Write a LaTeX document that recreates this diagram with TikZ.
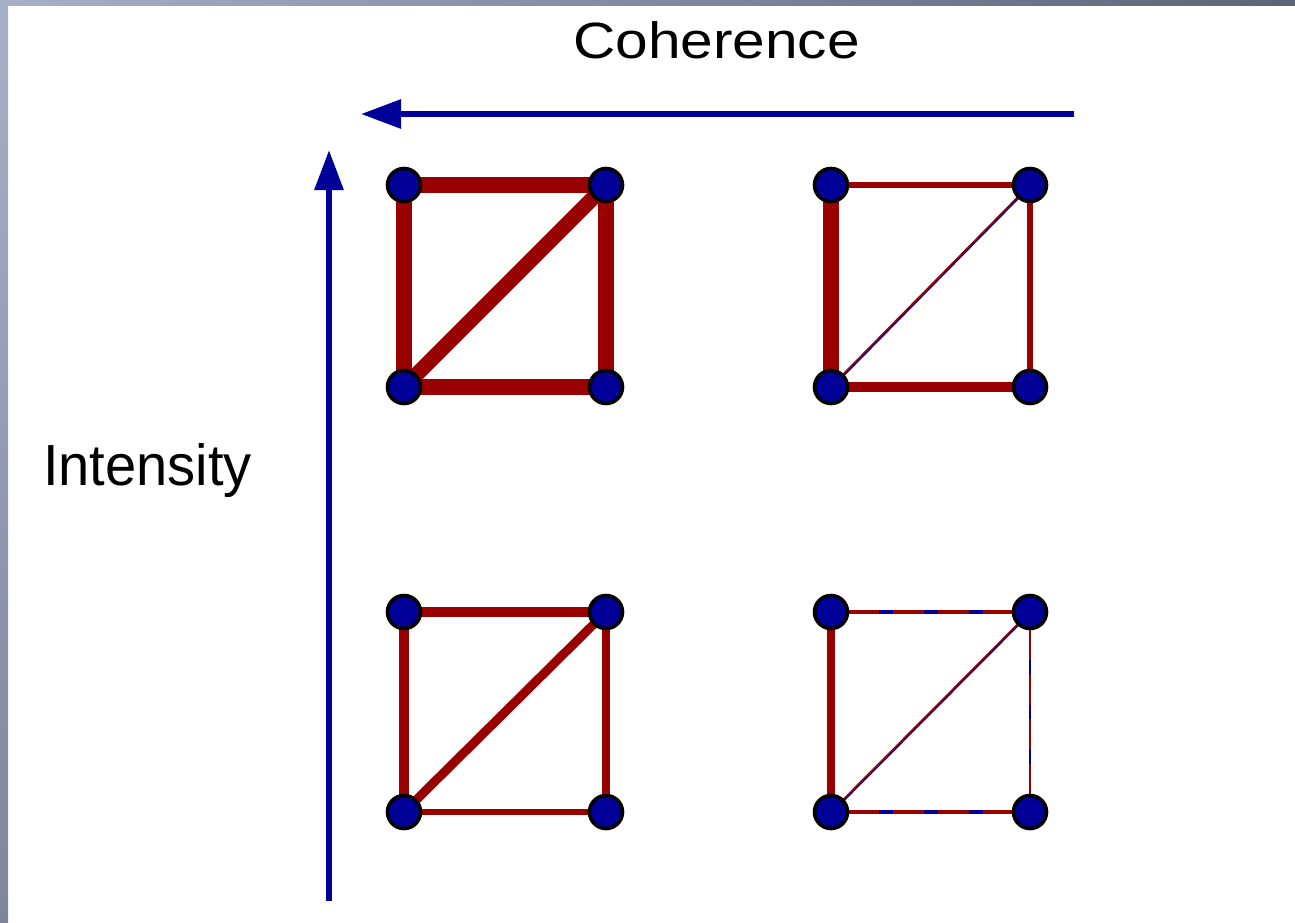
\documentclass[tikz,border=0pt]{standalone}
\usepackage{fontspec}
\setmainfont{Liberation Sans}
\usetikzlibrary{arrows.meta}
\definecolor{edgered}{RGB}{153,0,0}
\definecolor{nodeblue}{RGB}{0,0,153}
\definecolor{framelight}{RGB}{166,176,200}
\definecolor{framedark}{RGB}{92,100,120}
\definecolor{frameside}{RGB}{125,134,154}
\pgfdeclarelayer{background}
\pgfdeclarelayer{edges}
\pgfsetlayers{background,edges,main}
\begin{document}
\begin{tikzpicture}[x=1pt,y=-1pt,
  vertex/.style={circle,fill=nodeblue,draw=black,line width=3.6pt,minimum size=33pt,inner sep=0pt},
  link/.style={draw=edgered,line cap=butt},
  bluedash/.style={draw=nodeblue,line cap=butt,dash pattern=on 14pt off 31pt,dash phase=42pt},
  bluethin/.style={draw=nodeblue,line cap=butt,line width=1.1pt,transform canvas={xshift=0.9pt,yshift=-0.9pt}},
  axis/.style={draw=nodeblue,line width=6pt,-{Triangle[length=40pt,width=28pt]}},
  label/.style={inner sep=0pt,anchor=base,text=black}
  ]
\useasboundingbox (0,0) rectangle (1295,922);
\begin{pgfonlayer}{background}
\fill[white] (0,0) rectangle (1295,922);
\shade[left color=framelight,right color=framedark] (0,0) rectangle (1295,5);
\shade[top color=framelight,bottom color=frameside] (0,0) rectangle (8,922);
\end{pgfonlayer}

% labels
\node[label,font=\fontsize{51}{61}\selectfont] (coh) at (716.5,58) {\scalebox{1.15}[1]{Coherence}};
\node[label,font=\fontsize{58}{68}\selectfont] (int) at (147.5,485) {\scalebox{0.967}[1]{Intensity}};

% axes
\coordinate (hstart) at (1074,114);
\coordinate (hend) at (361,114);
\coordinate (vstart) at (329,901);
\coordinate (vend) at (329,150);
\draw[axis] (hstart) -- (hend);
\draw[axis] (vstart) -- (vend);

% vertices
\node[vertex] (a1) at (404,185) {};
\node[vertex] (b1) at (606,185) {};
\node[vertex] (c1) at (404,387) {};
\node[vertex] (d1) at (606,387) {};
\node[vertex] (a2) at (831,185) {};
\node[vertex] (b2) at (1030,185) {};
\node[vertex] (c2) at (831,387) {};
\node[vertex] (d2) at (1030,387) {};
\node[vertex] (a3) at (404,612) {};
\node[vertex] (b3) at (606,612) {};
\node[vertex] (c3) at (404,812) {};
\node[vertex] (d3) at (606,812) {};
\node[vertex] (a4) at (831,612) {};
\node[vertex] (b4) at (1030,612) {};
\node[vertex] (c4) at (831,812) {};
\node[vertex] (d4) at (1030,812) {};

\begin{pgfonlayer}{edges}
% top-left square
\draw[link,line width=16pt] (a1.center) -- (b1.center);
\draw[link,line width=16pt] (a1.center) -- (c1.center);
\draw[link,line width=16pt] (b1.center) -- (d1.center);
\draw[link,line width=16pt] (c1.center) -- (d1.center);
\draw[link,line width=15pt] (c1.center) -- (b1.center);
% top-right square
\draw[link,line width=5.3pt] (a2.center) -- (b2.center);
\draw[link,line width=15.7pt] (a2.center) -- (c2.center);
\draw[link,line width=5.7pt] (b2.center) -- (d2.center);
\draw[link,line width=9.7pt] (c2.center) -- (d2.center);
\draw[link,line width=2.2pt] (c2.center) -- (b2.center);
\draw[bluethin] (c2.center) -- (b2.center);
% bottom-left square
\draw[link,line width=9.7pt] (a3.center) -- (b3.center);
\draw[link,line width=10pt] (a3.center) -- (c3.center);
\draw[link,line width=7.3pt] (b3.center) -- (d3.center);
\draw[link,line width=6.3pt] (c3.center) -- (d3.center);
\draw[link,line width=9pt] (c3.center) -- (b3.center);
% bottom-right square
\draw[link,line width=3.3pt] (a4.center) -- (b4.center);
\draw[bluedash,line width=3.3pt] (a4.center) -- (b4.center);
\draw[link,line width=7.3pt] (a4.center) -- (c4.center);
\draw[link,line width=2.7pt] (b4.center) -- (d4.center);
\draw[bluedash,line width=2.7pt] (b4.center) -- (d4.center);
\draw[link,line width=4pt] (c4.center) -- (d4.center);
\draw[bluedash,line width=4pt] (c4.center) -- (d4.center);
\draw[link,line width=2pt] (c4.center) -- (b4.center);
\draw[bluethin] (c4.center) -- (b4.center);
\end{pgfonlayer}
\end{tikzpicture}
\end{document}
